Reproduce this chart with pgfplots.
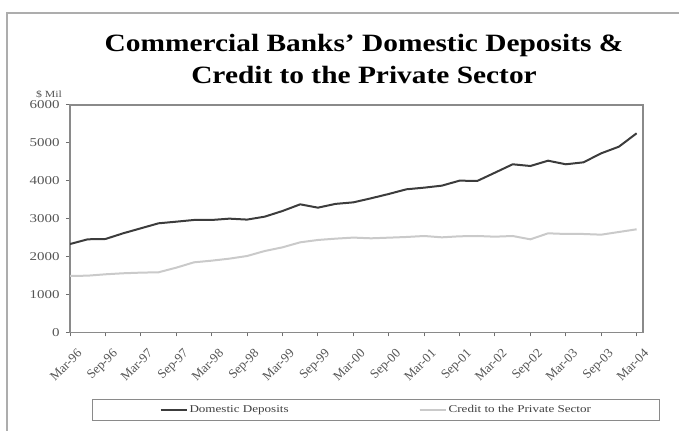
\documentclass[border=0pt]{standalone}
\usepackage{fontspec}
\setmainfont{Liberation Serif}
\newfontfamily\wideserif[FakeStretch=1.25]{Liberation Serif}
\newfontfamily\widebold[FakeStretch=1.18]{Liberation Serif Bold}
\usepackage{pgfplots}
\usepackage{pgfplotstable}
\pgfplotsset{compat=1.18}
\definecolor{depcol}{HTML}{3C3C3C}
\definecolor{credcol}{HTML}{CACACA}
\definecolor{framecol}{HTML}{8A8A8A}
\definecolor{axcol}{HTML}{6E6E6E}
\definecolor{labcol}{HTML}{555555}
\pgfplotstableread{
i dep cred
0 2330 1486
1 2455 1495
2 2463 1531
3 2613 1558
4 2745 1575
5 2877 1584
6 2920 1706
7 2965 1847
8 2965 1891
9 3000 1944
10 2975 2014
11 3053 2146
12 3202 2243
13 3378 2375
14 3290 2437
15 3390 2472
16 3430 2500
17 3537 2481
18 3651 2498
19 3775 2516
20 3818 2542
21 3871 2507
22 4003 2534
23 3995 2542
24 4214 2524
25 4435 2542
26 4390 2454
27 4530 2613
28 4435 2595
29 4487 2595
30 4725 2577
31 4900 2648
32 5253 2719
}\datatable
\begin{document}
\begin{tikzpicture}
\path[use as bounding box] (0,0) rectangle (679bp,431bp);
\draw[framecol!70, line width=2bp] (7bp,0) -- (7bp,418bp) -- (679bp,418bp);
\node[align=center, font=\widebold\fontsize{25}{32}\selectfont] at (364bp,372bp)
  {Commercial Banks’ Domestic Deposits \&\\Credit to the Private Sector};
\node[font=\wideserif\fontsize{9.5}{9.5}\selectfont, text=labcol] at (49bp,337bp) {\$ Mil};
\begin{axis}[
  at={(70bp,98.7bp)}, anchor=south west,
  scale only axis, width=573bp, height=227.3bp,
  xmin=0, xmax=32.36, ymin=0, ymax=6000,
  xtick={0,2,...,32},
  xticklabels={Mar-96,Sep-96,Mar-97,Sep-97,Mar-98,Sep-98,Mar-99,Sep-99,Mar-00,Sep-00,Mar-01,Sep-01,Mar-02,Sep-02,Mar-03,Sep-03,Mar-04},
  ytick={0,1000,...,6000},
  /pgf/number format/fixed,
  /pgf/number format/1000 sep={},
  /pgf/number format/assume math mode=true,
  scaled y ticks=false,
  tick align=outside, xtick pos=bottom, ytick pos=left,
  major tick length=4bp,
  tick style={axcol, line width=1bp},
  axis line style={framecol, line width=1.5bp},
  yticklabel style={font=\wideserif\fontsize{12}{12}\selectfont, text=labcol, xshift=-3bp},
  xticklabel style={font=\fontsize{13}{13}\selectfont, text=labcol,
    rotate=45, anchor=north east, inner sep=0.5bp, yshift=-12bp, xshift=-3bp},
  legend columns=2,
  legend style={at={(0.0384,-0.2934)}, anchor=north west,
    draw=framecol, line width=1bp, inner xsep=67bp, inner ysep=4bp,
    font=\wideserif\fontsize{10.5}{10.5}\selectfont, text=black!75,
    /tikz/every even column/.append style={column sep=128bp}},
  legend image code/.code={\draw[#1] (0bp,0bp) -- (26bp,0bp);},
]
\addplot[depcol, line width=2bp] table[x=i, y=dep] {\datatable};
\addlegendentry{Domestic Deposits}
\addplot[credcol, line width=2bp] table[x=i, y=cred] {\datatable};
\addlegendentry{Credit to the Private Sector}
\end{axis}
\end{tikzpicture}
\end{document}
